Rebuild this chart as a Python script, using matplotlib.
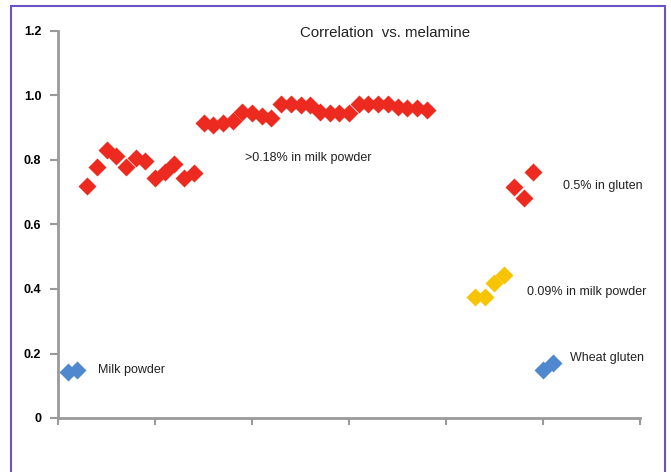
import matplotlib.pyplot as plt
from matplotlib.patches import Rectangle

# sample index on x, correlation on y
milk_x = [1, 2]
milk_y = [0.143, 0.149]

high_x = list(range(3, 39))
high_y = [0.72, 0.778, 0.831, 0.812, 0.778, 0.806, 0.797, 0.744, 0.763, 0.787, 0.744, 0.76,
          0.915, 0.91, 0.915, 0.92, 0.95, 0.945, 0.935, 0.93, 0.975, 0.975, 0.97, 0.97,
          0.95, 0.945, 0.945, 0.945, 0.975, 0.975, 0.975, 0.975, 0.965, 0.96, 0.96, 0.955]

low_x = [43, 44, 45, 46]
low_y = [0.375, 0.375, 0.42, 0.443]

gluten_x = [47, 48, 49]
gluten_y = [0.716, 0.682, 0.763]

wheat_x = [50, 51]
wheat_y = [0.149, 0.171]

yticks = [0, 0.2, 0.4, 0.6, 0.8, 1.0, 1.2]
ytick_labels = ["0", "0.2", "0.4", "0.6", "0.8", "1.0", "1.2"]

red = "#EC2A1F"
gold = "#F6C400"
blue = "#4F88CF"
grey = "#9A9A9A"

plt.rcParams['font.family'] = ['Liberation Sans', 'DejaVu Sans']

fig = plt.figure(figsize=(6.71, 4.72), dpi=100)
ax = fig.add_axes([58 / 671, 1 - 418 / 472, (640 - 58) / 671, (418 - 31) / 472])

ms = 8.8
ax.plot(milk_x, milk_y, 'D', color=blue, ms=ms, mec='none')
ax.plot(high_x, high_y, 'D', color=red, ms=ms, mec='none')
ax.plot(low_x, low_y, 'D', color=gold, ms=ms, mec='none')
ax.plot(gluten_x, gluten_y, 'D', color=red, ms=ms, mec='none')
ax.plot(wheat_x, wheat_y, 'D', color=blue, ms=ms, mec='none')

ax.set_xlim(0, 60)
ax.set_ylim(0, 1.2)
ax.set_xticks(range(0, 61, 10))
ax.set_xticklabels([])
ax.set_yticks(yticks)
ax.set_yticklabels(ytick_labels, fontweight='bold', fontsize=9)

for s in ['top', 'right']:
    ax.spines[s].set_visible(False)
for s in ['left', 'bottom']:
    ax.spines[s].set_color(grey)
    ax.spines[s].set_linewidth(2)
ax.tick_params(axis='y', color=grey, width=1.5, length=6, pad=6)
ax.tick_params(axis='x', color=grey, width=1.5, length=5)

txt = dict(fontsize=9, color="#222222", va='center')
ax.text(33.7, 1.195, "Correlation  vs. melamine", fontsize=10.8, color="#222222",
        ha='center', va='center')
ax.text(19.3, 0.805, ">0.18% in milk powder", **txt)
ax.text(52.1, 0.72, "0.5% in gluten", **txt)
ax.text(48.3, 0.39, "0.09% in milk powder", **txt)
ax.text(52.8, 0.185, "Wheat gluten", **txt)
ax.text(4.1, 0.15, "Milk powder", **txt)

fig.patches.append(Rectangle((11 / 671, -0.1), (665 - 11) / 671, 1.1 - 6 / 472,
                             transform=fig.transFigure, fill=False,
                             edgecolor="#6B52C6", linewidth=1.5))

fig.savefig("out.png", dpi=100)
